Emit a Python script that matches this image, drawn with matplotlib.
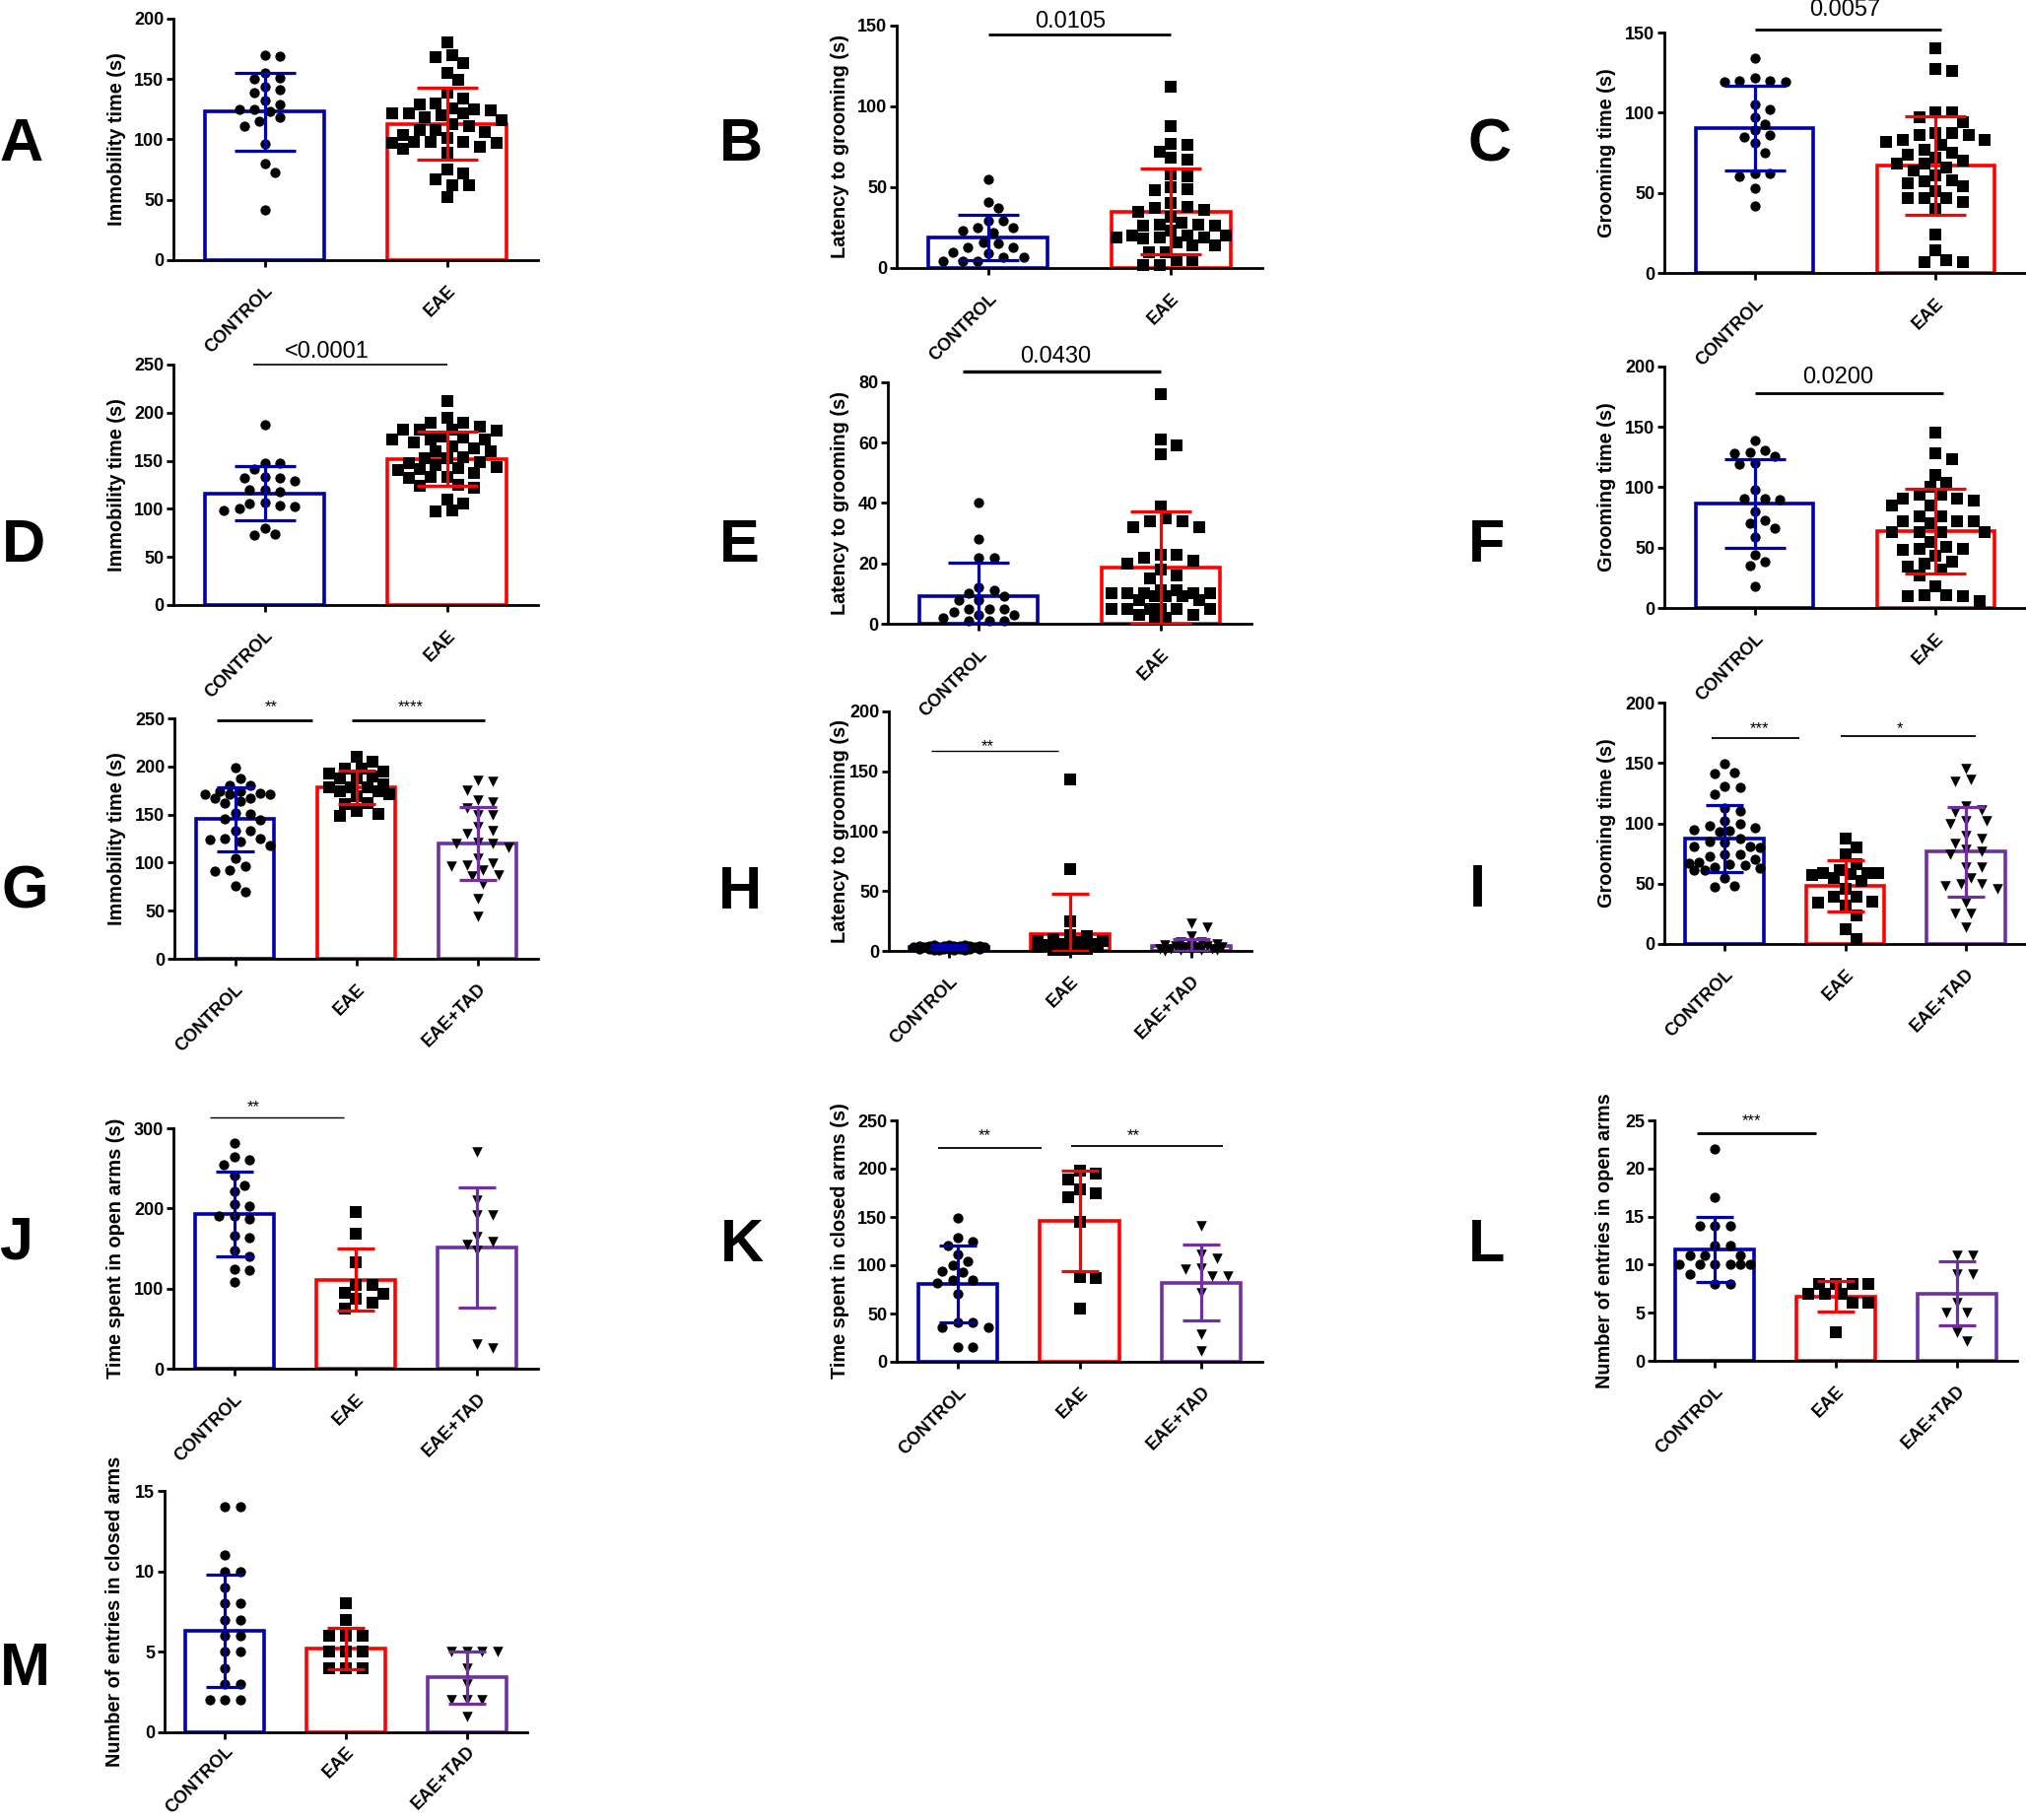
import numpy as np
import matplotlib
matplotlib.use("Agg")
import matplotlib.pyplot as plt

plt.rcParams['font.family'] = ['Liberation Sans', 'DejaVu Sans']

W, H = 2056, 1847

GROUPS2 = ['CONTROL', 'EAE']
GROUPS3 = ['CONTROL', 'EAE', 'EAE+TAD']

# ---------------- data ----------------
A_ctrl = [170, 169, 155, 151, 150, 144, 141, 139, 132, 129, 125, 125, 123, 118, 115, 111, 96, 80, 73, 42]
A_eae = [180, 170, 168, 163, 155, 149, 139, 134, 130, 129, 126, 125, 122, 122, 122, 124, 120, 118, 113, 111,
         116, 108, 108, 106, 104, 101, 98, 97, 98, 98, 97, 94, 92, 89, 75, 72, 67, 62, 62, 52]
A_mean = [123, 113]
A_sd = [32, 30]

B_ctrl = [55, 41, 37, 29, 29, 23, 25, 25, 22, 15, 16, 13, 13, 10, 7, 9, 7, 4, 4, 4]
B_eae = [112, 88, 72, 77, 76, 67, 68, 58, 57, 48, 49, 50, 37, 38, 40, 36, 35, 32, 26, 26,
         28, 27, 27, 23, 20, 20, 20, 19, 19, 19, 18, 16, 14, 14, 10, 10, 5, 5, 2, 2]
B_mean = [19, 35]
B_sd = [14, 26.5]

C_ctrl = [134, 120, 119, 122, 119, 120, 105, 102, 97, 93, 89, 85, 86, 81, 75, 62, 62, 60, 53, 42]
C_eae = [140, 127, 126, 100, 94, 97, 100, 86, 87, 83, 87, 82, 86, 80, 83, 77, 74, 75, 72, 70,
         66, 68, 68, 64, 61, 58, 56, 54, 57, 51, 47, 47, 47, 44, 40, 24, 14, 8, 7, 7]
C_mean = [90.5, 67]
C_sd = [26.5, 31]

D_ctrl = [188, 148, 148, 141, 132, 133, 129, 132, 120, 120, 118, 107, 106, 103, 102, 98, 100, 80, 73, 74]
D_eae = [212, 195, 190, 190, 185, 182, 182, 182, 181, 172, 175, 172, 172, 174, 169, 165, 163, 160, 160, 154,
         153, 149, 153, 148, 146, 143, 142, 137, 140, 141, 132, 133, 133, 125, 124, 122, 110, 106, 98, 97]
D_mean = [116, 152]
D_sd = [28, 28.5]

E_ctrl = [40, 28, 22, 22, 12, 10, 11, 8, 8, 9, 5, 5, 5, 4, 2, 3, 3, 1, 1, 1]
E_eae = [76, 61, 59, 56, 39, 34, 35, 34, 32, 32, 23, 23, 22, 21, 20, 18, 16, 15, 11, 11,
         9, 10, 10, 10, 8, 9, 8, 10, 10, 9, 5, 5, 5, 5, 5, 5, 3, 2, 3, 2]
E_mean = [9.3, 18.7]
E_sd = [11, 18.6]

F_ctrl = [139, 126, 128, 129, 131, 119, 120, 98, 91, 90, 91, 80, 73, 70, 66, 59, 44, 38, 35, 18]
F_eae = [145, 128, 123, 110, 104, 100, 94, 94, 89, 91, 91, 85, 85, 76, 76, 72, 72, 72, 70, 63,
         63, 63, 63, 55, 49, 48, 49, 51, 43, 37, 38, 34, 32, 27, 18, 10, 10, 11, 11, 6]
F_mean = [86.5, 63.5]
F_sd = [36.5, 35]

G_ctrl = [199, 188, 180, 180, 171, 167, 164, 171, 174, 174, 171, 172, 167, 162, 151, 152, 144, 145, 133, 133,
          125, 122, 124, 125, 118, 104, 96, 91, 92, 76, 70]
G_eae = [210, 198, 198, 205, 193, 188, 190, 188, 195, 181, 178, 178, 178, 174, 174, 171, 169, 161, 162, 151, 154, 149]
G_tad = [184, 185, 175, 165, 163, 157, 150, 150, 137, 130, 133, 116, 120, 121, 120, 104, 96, 97, 99, 92,
         86, 87, 78, 63, 44]
G_mean = [145, 178, 120]
G_sd = [33.5, 17.5, 38]

H_ctrl = [1, 1, 1, 2, 2, 2, 2, 2, 3, 3, 3, 3, 3, 3, 4, 4, 4, 4, 4, 5, 5, 5, 2, 3, 1, 4, 3, 2, 3, 4]
H_eae = [143, 68, 25, 13, 12, 10, 8, 8, 7, 6, 6, 5, 5, 4, 4, 3, 3, 2, 2, 1, 1]
H_tad = [23, 20, 12, 7, 7, 6, 5, 5, 4, 4, 3, 3, 3, 2, 2, 2, 1, 1, 1, 0, 0]
H_mean = [3.3, 14, 4]
H_sd = [1.5, 34, 6]

I_ctrl = [149, 142, 141, 131, 130, 124, 113, 110, 102, 100, 96, 98, 94, 95, 93, 85, 84, 87, 81, 80,
          81, 74, 73, 74, 70, 66, 68, 67, 63, 65, 64, 61, 61, 55, 47, 48]
I_eae = [87, 80, 74, 66, 59, 59, 58, 61, 59, 55, 57, 52, 46, 39, 39, 32, 34, 35, 24, 12, 4]
I_tad = [145, 135, 136, 114, 109, 111, 102, 100, 102, 90, 87, 83, 78, 77, 74, 64, 64, 55, 46, 50,
         48, 50, 34, 25, 25, 14]
I_mean = [87.5, 48, 76.5]
I_sd = [27.5, 21, 37]

J_ctrl = [282, 261, 264, 255, 241, 229, 221, 205, 203, 190, 190, 187, 166, 163, 147, 140, 124, 123, 108]
J_eae = [195, 168, 133, 104, 104, 95, 93, 87, 82, 75]
J_tad = [270, 210, 192, 192, 165, 158, 155, 147, 26, 31]
J_mean = [193, 111, 151.5]
J_sd = [53, 39, 75]

K_ctrl = [149, 125, 129, 120, 111, 104, 100, 94, 93, 85, 85, 82, 70, 41, 41, 36, 36, 15, 15]
K_eae = [198, 195, 189, 179, 170, 174, 145, 88, 87, 55]
K_tad = [141, 107, 111, 97, 96, 89, 89, 71, 29, 11]
K_mean = [80.5, 146, 82]
K_sd = [39.5, 52, 39]

L_ctrl = [22, 17, 14, 14, 14, 12, 12, 11, 11, 11, 10, 10, 10, 10, 10, 10, 9, 8, 8]
L_eae = [8, 8, 8, 8, 7, 7, 7, 6, 6, 3]
L_tad = [11, 11, 9, 9, 6, 5, 5, 3, 2]
L_mean = [11.6, 6.7, 7.0]
L_sd = [3.4, 1.6, 3.3]

M_ctrl = [14, 14, 11, 10, 10, 9, 8, 8, 7, 7, 6, 6, 5, 5, 4, 3, 3, 2, 2, 2]
M_eae = [8, 7, 6, 6, 6, 5, 5, 5, 4, 4, 4]
M_tad = [5, 5, 5, 5, 4, 3, 2, 2, 2, 1]
M_mean = [6.3, 5.2, 3.4]
M_sd = [3.5, 1.3, 1.6]

# significance annotations: (x_start, x_end, y_line, label, x_text, y_text, kind)
B_sig = [(0, 1, 144.5, '0.0105', 0.45, 149, 'p')]
C_sig = [(0, 1.03, 151.8, '0.0057', 0.5, 160.5, 'p')]
D_sig = [(-0.06, 1.0, 250, '<0.0001', 0.34, 257, 'p')]
E_sig = [(-0.09, 1.0, 83.5, '0.0430', 0.42, 86.5, 'p')]
F_sig = [(0, 1.04, 178, '0.0200', 0.46, 186, 'p')]
G_sig = [(-0.15, 0.64, 247.6, '**', 0.3, 262, 's'), (0.96, 2.06, 247.6, '****', 1.45, 262, 's')]
H_sig = [(-0.15, 0.9, 167, '**', 0.32, 171, 's')]
I_sig = [(-0.11, 0.62, 171, '***', 0.29, 178, 's'), (0.96, 2.08, 172, '*', 1.45, 178, 's')]
J_sig = [(-0.2, 0.9, 313, '**', 0.16, 326, 's')]
K_sig = [(-0.16, 0.69, 221, '**', 0.22, 234, 's'), (0.93, 2.18, 223, '**', 1.44, 234, 's')]
L_sig = [(-0.15, 0.84, 23.7, '***', 0.3, 24.9, 's')]

# ---------------- layout ----------------
COLORS = ['#0000AA', '#FF0000', '#7030A0']
MARKERS = ['o', 's', 'v']
MSIZE = {'o': 7.4, 's': 8.0, 'v': 7.6}
BAR_W = 0.65

panels = [
    dict(letter='A', box=(176, 546, 19, 264), groups=GROUPS2, vals=[A_ctrl, A_eae], mean=A_mean, sd=A_sd,
         ymax=200, ystep=50, ylabel='Immobility time (s)', sig=[], lx=(22, 163), lab_off=-58, sigw=2.0),
    dict(letter='B', box=(910, 1281, 26, 272), groups=GROUPS2, vals=[B_ctrl, B_eae], mean=B_mean, sd=B_sd,
         ymax=150, ystep=50, ylabel='Latency to grooming (s)', sig=B_sig, lx=(752, 163), lab_off=-57, sigw=2.0),
    dict(letter='C', box=(1689, 2056, 33, 277), groups=GROUPS2, vals=[C_ctrl, C_eae], mean=C_mean, sd=C_sd,
         ymax=150, ystep=50, ylabel='Grooming time (s)', sig=C_sig, lx=(1512, 163), lab_off=-59, sigw=2.0),
    dict(letter='D', box=(176, 546, 370, 614), groups=GROUPS2, vals=[D_ctrl, D_eae], mean=D_mean, sd=D_sd,
         ymax=250, ystep=50, ylabel='Immobility time (s)', sig=D_sig, lx=(24, 570), lab_off=-58, sigw=1.2),
    dict(letter='E', box=(901, 1270, 388, 633), groups=GROUPS2, vals=[E_ctrl, E_eae], mean=E_mean, sd=E_sd,
         ymax=80, ystep=20, ylabel='Latency to grooming (s)', sig=E_sig, lx=(750, 570), lab_off=-49, sigw=2.4),
    dict(letter='F', box=(1689, 2056, 372, 617), groups=GROUPS2, vals=[F_ctrl, F_eae], mean=F_mean, sd=F_sd,
         ymax=200, ystep=50, ylabel='Grooming time (s)', sig=F_sig, lx=(1509, 570), lab_off=-59, sigw=2.0),
    dict(letter='G', box=(177, 546, 729, 973), groups=GROUPS3, vals=[G_ctrl, G_eae, G_tad], mean=G_mean, sd=G_sd,
         ymax=250, ystep=50, ylabel='Immobility time (s)', sig=G_sig, lx=(25, 922), lab_off=-59, sigw=2.0),
    dict(letter='H', box=(902, 1270, 722, 965), groups=GROUPS3, vals=[H_ctrl, H_eae, H_tad], mean=H_mean, sd=H_sd,
         ymax=200, ystep=50, ylabel='Latency to grooming (s)', sig=H_sig, lx=(751, 922), lab_off=-49, sigw=1.0),
    dict(letter='I', box=(1689, 2056, 713, 958), groups=GROUPS3, vals=[I_ctrl, I_eae, I_tad], mean=I_mean, sd=I_sd,
         ymax=200, ystep=50, ylabel='Grooming time (s)', sig=I_sig, lx=(1499, 920), lab_off=-59, sigw=1.3),
    dict(letter='J', box=(176, 546, 1145, 1389), groups=GROUPS3, vals=[J_ctrl, J_eae, J_tad], mean=J_mean, sd=J_sd,
         ymax=300, ystep=100, ylabel='Time spent in open arms (s)', sig=J_sig, lx=(16, 1278), lab_off=-58, sigw=1.0),
    dict(letter='K', box=(910, 1281, 1137, 1382), groups=GROUPS3, vals=[K_ctrl, K_eae, K_tad], mean=K_mean, sd=K_sd,
         ymax=250, ystep=50, ylabel='Time spent in closed arms (s)', sig=K_sig, lx=(753, 1280), lab_off=-58, sigw=1.3),
    dict(letter='L', box=(1679, 2047, 1137, 1381), groups=GROUPS3, vals=[L_ctrl, L_eae, L_tad], mean=L_mean, sd=L_sd,
         ymax=25, ystep=5, ylabel='Number of entries in open arms', sig=L_sig, lx=(1509, 1280), lab_off=-51, sigw=2.0),
    dict(letter='M', box=(167, 535, 1513, 1758), groups=GROUPS3, vals=[M_ctrl, M_eae, M_tad], mean=M_mean, sd=M_sd,
         ymax=15, ystep=5, ylabel='Number of entries in closed arms', sig=[], lx=(25, 1710), lab_off=-50, sigw=1.0,
         xpad=3),
]


def swarm_offsets(vals, d_px, ppx, ppy, max_px, spacing=1.15):
    """Beeswarm offsets limited to the bar width; overlaps allowed when crowded."""
    vals = np.asarray(vals, dtype=float)
    order = np.argsort(-vals, kind='stable')
    placed = []
    offs = np.zeros(len(vals))
    dmin = d_px * spacing
    cands = [0.0]
    j = 1
    while j * d_px * 0.5 <= max_px:
        cands += [j * d_px * 0.5, -j * d_px * 0.5]
        j += 1
    for i in order:
        y = vals[i] * ppy
        best_c, best_d = None, -1.0
        chosen = None
        for c in cands:
            md = min([np.hypot(c - px, y - py) for (px, py) in placed] or [1e9])
            if md >= dmin:
                chosen = c
                break
            if md > best_d + 1e-9:
                best_d, best_c = md, c
        if chosen is None:
            chosen = best_c
        offs[i] = chosen / ppx
        placed.append((chosen, y))
    return offs


fig = plt.figure(figsize=(W / 100, H / 100), dpi=100)

for p in panels:
    l, r, t, b = p['box']
    ax = fig.add_axes([l / W, 1 - b / H, (r - l) / W, (b - t) / H])
    ax.patch.set_visible(False)
    n = len(p['groups'])
    x = np.arange(n)
    xlim = (-0.5, n - 0.5)
    ax.set_xlim(*xlim)
    ax.set_ylim(0, p['ymax'])
    ppx = (r - l) / (xlim[1] - xlim[0])
    ppy = (b - t) / p['ymax']

    # bars
    ax.bar(x, p['mean'], width=BAR_W, facecolor='white', edgecolor=COLORS[:n], linewidth=2.6, zorder=1)

    # points
    for i in range(n):
        mk = MARKERS[i]
        ms = MSIZE[mk]
        d_px = ms * 100 / 72
        max_px = BAR_W / 2 * ppx - d_px * 0.35
        offs = swarm_offsets(p['vals'][i], d_px, ppx, ppy, max_px)
        ax.scatter(x[i] + offs, p['vals'][i], marker=mk, s=ms ** 2, color='black', linewidths=0,
                   zorder=3, clip_on=False)

    # error bars (mean +/- SD, clipped at 0)
    capsize = 22 if n == 2 else 14
    for i in range(n):
        lo = min(p['sd'][i], p['mean'][i])
        ax.errorbar(x[i], p['mean'][i], yerr=[[lo], [p['sd'][i]]], fmt='none', ecolor=COLORS[i],
                    elinewidth=2.3, capsize=capsize, capthick=2.3, zorder=4)

    # axes style
    for s in ['top', 'right']:
        ax.spines[s].set_visible(False)
    for s in ['left', 'bottom']:
        ax.spines[s].set_linewidth(2.0)
        ax.spines[s].set_zorder(2.5)
    ax.set_yticks(np.arange(0, p['ymax'] + 0.001, p['ystep']))
    ax.set_xticks(x)
    ax.set_xticklabels(p['groups'], rotation=45, ha='right', va='top', rotation_mode='anchor',
                       fontsize=13, fontweight='bold')
    for lab in ax.get_yticklabels():
        lab.set_fontweight('bold')
    ax.tick_params(axis='y', direction='out', length=5, width=2.0, labelsize=13, pad=2)
    ax.tick_params(axis='x', direction='out', length=5, width=2.0, pad=p.get('xpad', 11))
    ax.set_ylabel(p['ylabel'], fontsize=14.3, fontweight='bold', va='center')
    ax.yaxis.set_label_coords(p['lab_off'] / (r - l), 0.5)

    # significance
    for (x0, x1, yl, txt, xt, yt, kind) in p['sig']:
        ax.plot([x0, x1], [yl, yl], color='black', linewidth=p['sigw'], clip_on=False, solid_capstyle='butt')
        if kind == 'p':
            ax.text(xt, yt, txt, ha='center', va='baseline', fontsize=17, clip_on=False)
        else:
            ax.text(xt, yt, txt, ha='center', va='center', fontsize=12, clip_on=False)

    # panel letter
    lx, ly = p['lx']
    fig.text(lx / W, 1 - ly / H, p['letter'], fontsize=44, fontweight='bold', ha='center', va='baseline')

fig.savefig('out.png', dpi=100)
